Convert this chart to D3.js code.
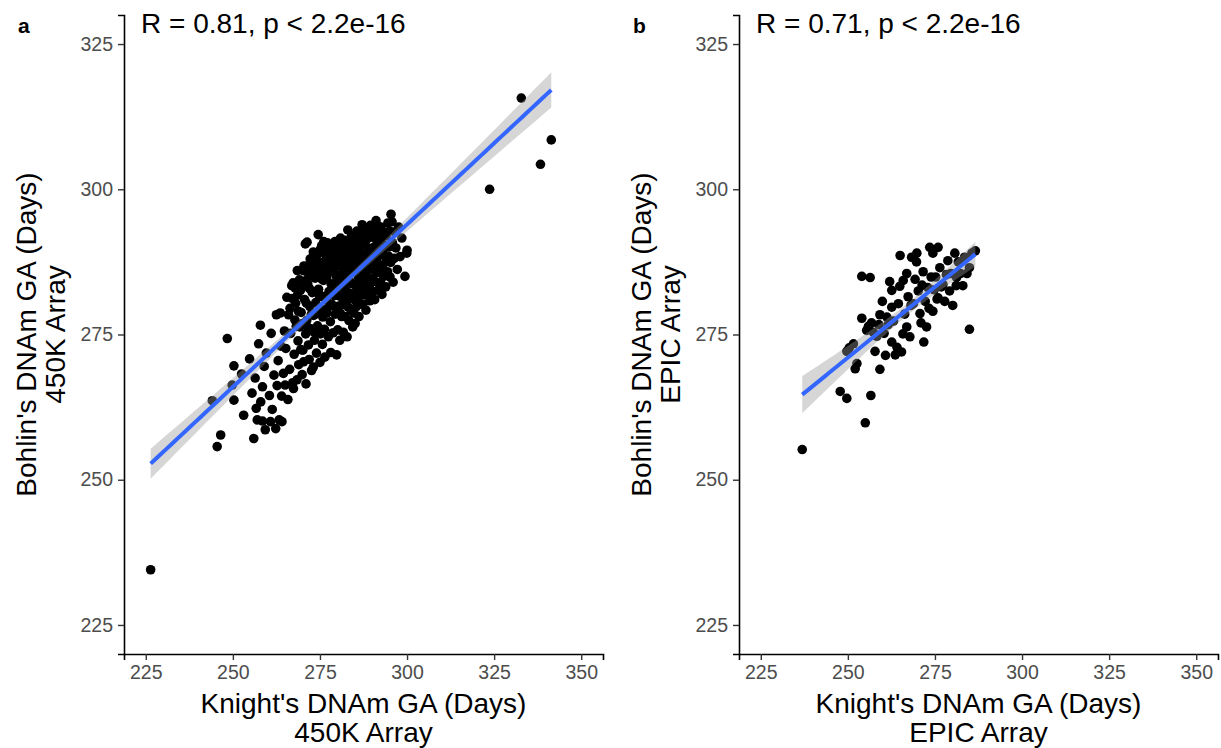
<!DOCTYPE html>
<html lang="en">
<head>
<meta charset="utf-8">
<title>Knight vs Bohlin DNAm GA</title>
<script src="https://cdn.jsdelivr.net/npm/d3@7"></script>
<style>
  body { margin: 0; background: #fff; }
  text { font-family: "Liberation Sans", Arial, sans-serif; }
</style>
</head>
<body>
<script>
// Knight's (x) vs Bohlin's (y) DNAm GA, days
var pairs450K = [
  [226.4,234.5],[323.7,300.0],[332.8,315.7],[338.3,304.3],[341.4,308.5],
  [244.1,263.6],[245.5,255.7],[246.5,257.7],[248.4,274.3],[249.8,266.3],[250.3,269.6],[250.3,263.7],[252.5,268.2],
  [253.1,261.1],[254.8,270.8],[255.5,264.9],[256.0,257.1],[256.4,267.5],[256.7,262.3],[257.0,260.3],[257.4,273.4],
  [257.9,276.6],[258.5,260.1],[258.5,266.0],[258.0,263.4],[259.3,258.6],[259.0,269.5],[259.6,271.8],[260.8,260.0],
  [260.5,264.5],[261.3,262.1],[261.0,275.2],[261.8,268.0],[262.3,258.8],[262.5,278.4],[262.7,266.2],[263.0,270.5],
  [263.3,260.3],[263.6,278.7],[263.8,273.0],[264.1,260.0],[264.0,264.4],[264.5,268.3],[264.8,275.6],[265.0,266.3],
  [265.2,272.6],[265.5,281.4],[265.8,263.8],[266.0,278.4],[266.3,269.0],[266.6,275.2],[266.9,283.4],[267.2,266.7],
  [267.4,265.7],[267.3,283.9],[267.6,271.6],[267.8,277.5],[268.0,280.4],[268.4,267.2],[268.5,286.0],[268.7,273.9],
  [268.9,269.8],[269.2,276.3],[269.4,282.6],[269.6,278.8],[269.9,268.1],[270.1,272.3],[270.3,270.3],[270.4,286.8],
  [270.6,281.0],[270.8,290.6],[270.9,275.1],[271.0,266.5],[271.2,277.4],[271.3,290.9],[271.5,283.7],[271.7,273.2],
  [271.9,270.7],[272.1,279.8],[272.3,286.1],[272.4,276.0],[272.6,268.8],[272.8,282.2],[273.0,288.4],[273.1,269.4],
  [273.2,278.3],[273.4,274.0],[273.6,284.7],[273.8,280.5],[274.0,271.8],[274.2,287.6],[274.3,276.5],[274.5,292.2],
  [274.6,282.8],[274.8,279.2],[275.0,270.2],[275.1,275.1],[275.2,286.6],[275.4,281.6],[275.5,290.3],[275.7,273.3],
  [275.8,278.0],[276.0,284.3],[276.1,291.0],[276.3,275.9],[276.4,271.1],[276.6,287.8],[276.8,280.9],[277.0,278.7],
  [277.1,290.8],[277.3,285.6],[277.4,274.6],[277.6,282.4],[277.8,289.7],[278.0,277.2],[278.1,271.9],[278.3,286.4],
  [278.4,280.2],[278.6,283.7],[278.8,275.3],[279.0,288.6],[279.1,281.7],[279.3,291.0],[279.4,278.5],[279.6,285.1],
  [279.8,271.5],[279.9,290.5],[280.1,275.8],[280.2,283.2],[280.4,279.9],[280.6,287.2],[280.7,274.0],[280.9,291.6],
  [281.0,284.7],[281.2,278.1],[281.4,281.3],[281.5,289.3],[281.7,275.4],[281.9,286.1],[282.0,282.9],[282.2,278.1],
  [282.3,291.2],[282.5,280.6],[282.7,287.6],[282.8,274.6],[283.0,293.0],[283.2,284.2],[283.3,277.4],[283.5,289.8],
  [283.6,281.9],[283.8,286.5],[284.0,279.1],[284.1,292.0],[284.3,283.7],[284.4,276.3],[284.6,288.3],[284.8,281.0],
  [285.0,291.0],[285.1,276.9],[285.3,285.6],[285.5,279.8],[285.6,292.8],[285.8,283.0],[286.0,289.4],[286.2,278.1],
  [286.3,286.5],[286.5,281.7],[286.7,292.0],[286.9,284.6],[287.1,293.9],[287.2,280.2],[287.4,287.8],[287.6,282.8],
  [287.8,290.4],[288.0,285.1],[288.2,279.2],[288.3,293.0],[288.5,288.5],[288.7,282.0],[288.9,286.1],[289.1,291.7],
  [289.3,280.8],[289.5,293.8],[289.7,284.6],[289.9,288.7],[290.1,282.4],[290.3,292.4],[290.5,286.4],[290.7,281.0],
  [290.9,290.2],[291.1,294.6],[291.3,284.0],[291.5,288.3],[291.7,282.6],[292.0,292.3],[292.2,286.1],[292.5,293.5],
  [292.8,281.9],[293.0,289.5],[293.3,285.0],[293.6,292.6],[293.9,283.2],[294.2,287.6],[294.5,294.2],[294.8,290.1],
  [295.1,284.9],[295.4,295.7],[295.7,294.4],[296.0,284.0],[296.3,288.1],[296.5,292.7],[296.8,289.9],[297.2,286.2],
  [297.6,293.5],[298.0,288.4],[298.5,291.6],[299.4,285.0],[299.9,289.0],[300.0,289.5],
  [268.2,276.4],[268.8,279.0],[269.5,272.4],[270.0,276.9],[270.5,283.4],[271.1,280.4],[271.6,276.2],[272.0,282.9],
  [272.5,278.4],[272.9,285.2],[273.3,275.4],[273.7,282.4],[274.1,278.6],[274.4,284.9],[274.9,281.6],[275.3,278.7],
  [275.6,284.5],[275.9,281.5],[276.2,286.7],[276.5,279.3],[276.9,284.7],[277.2,281.7],[277.5,287.7],[277.9,279.9],
  [278.2,283.7],[278.5,290.2],[278.9,282.3],[279.2,286.5],[279.5,279.7],[279.7,283.7],[280.0,288.2],[280.3,281.7],
  [280.5,285.2],[280.8,278.7],[281.1,286.7],[281.3,283.5],[281.6,290.7],[281.8,280.2],[282.1,285.2],[282.4,288.7],
  [282.6,282.5],[282.9,285.7],[283.1,279.7],[283.4,288.1],[283.7,284.1],[283.9,290.6],[284.2,282.0],[284.5,285.9],
  [284.7,278.7],[284.9,289.6],[285.2,283.5],[285.4,287.6],[285.7,281.3],[285.9,291.5],[286.1,284.8],[286.4,288.1],
  [286.6,282.3],[286.8,290.3],[287.0,286.0],[287.3,284.0],[287.5,292.5],[287.7,288.8],[287.9,281.8],[288.1,291.0],
  [288.4,284.3],[288.6,287.0],[288.8,292.8],[289.0,289.5],[289.2,283.4],[289.4,287.5],[289.6,291.8],[289.8,286.4],
  [290.0,289.9],[290.2,284.5],[290.4,288.5],[290.6,293.4],[290.8,287.3],[291.0,291.5],[291.2,285.6],[291.4,290.0],
  [291.6,286.8],[291.8,293.6],[292.1,289.0],[292.4,284.0],[292.7,291.0],[293.1,287.0],[293.4,290.2],[293.8,288.4],
  [294.0,292.0],[294.4,285.8],[294.7,288.5],[295.0,292.8],[295.3,287.4],[295.8,290.8],
  [266.4,279.5],[267.1,281.2],[267.9,283.0],[268.6,281.8],[269.1,284.4],[269.8,283.1],[270.2,286.0],[270.7,284.2],
  [271.4,286.8],[271.8,285.0],[272.2,288.0],[272.7,286.3],[273.1,289.2],[273.5,287.0],[273.9,285.4],[274.3,288.8],
  [274.7,286.4],[275.1,289.6],[275.5,287.3],[275.8,285.6],[276.3,289.0],[276.7,287.2],[277.1,288.4],[277.5,290.0],
  [277.9,286.6],[278.3,289.2],[278.7,287.6],[279.1,290.4],[279.5,288.0],[279.9,286.8],[280.4,289.6],[280.8,288.2],
  [281.2,290.2],[281.7,287.4],[282.1,289.8],[282.6,288.4],[283.1,290.6],[283.6,289.0],[284.1,288.0],[284.6,290.2],
  [285.1,289.2],[285.6,290.4]
];

var pairsEPIC = [
  [236.9,255.2],[247.8,265.2],[249.7,264.0],[249.7,272.1],[250.4,272.7],[251.6,273.4],[252.1,269.1],[252.6,270.0],
  [254.0,285.0],[254.0,277.8],[255.0,259.8],[255.4,275.7],[255.9,276.4],[256.4,284.8],[256.6,264.5],[256.8,277.0],
  [257.3,275.4],[257.8,272.1],[258.3,274.7],[258.9,276.7],[259.2,269.0],[259.2,278.4],[259.9,280.7],[260.4,275.2],
  [260.8,271.4],[261.2,278.0],[261.6,276.7],[262.0,284.1],[262.6,273.7],[262.6,282.6],[262.6,279.7],[263.1,277.3],
  [263.6,271.5],[264.1,272.8],[264.5,280.3],[264.9,283.3],[265.0,288.6],[265.4,272.0],[265.8,275.1],[265.9,284.3],
  [266.3,278.5],[266.9,285.5],[266.9,276.3],[267.3,281.5],[267.8,274.6],[268.1,280.0],[268.3,288.3],[268.8,280.3],
  [269.3,284.5],[269.7,287.5],[269.8,289.0],[270.2,282.5],[270.7,278.6],[271.0,277.0],[271.3,283.5],[271.6,285.8],
  [271.8,273.7],[272.2,280.7],[272.6,276.3],[272.9,283.1],[273.3,279.5],[273.5,290.0],[273.9,284.9],[274.4,279.0],
  [274.4,289.0],[274.8,282.7],[275.2,284.9],[275.6,281.1],[275.9,290.0],[275.9,281.3],[276.4,286.5],[276.8,283.2],
  [277.3,283.6],[277.8,280.7],[278.3,285.3],[278.7,287.7],[279.2,282.5],[279.6,285.5],[280.1,280.0],[280.7,289.0],
  [281.1,283.4],[281.2,284.8],[281.7,287.5],[282.3,285.5],[283.0,283.4],[283.5,288.3],[284.2,285.5],[284.9,286.5],
  [284.9,275.9],[285.6,289.0],[286.6,289.4]
];

var xTicks = [225, 250, 275, 300, 325, 350];
var yTicks = [225, 250, 275, 300, 325];

var panels = [
  { tag: "a", stat: "R = 0.81, p < 2.2e-16", array: "450K Array", data: pairs450K, left: 124 },
  { tag: "b", stat: "R = 0.71, p < 2.2e-16", array: "EPIC Array", data: pairsEPIC, left: 739 }
];

var W = 1221, H = 748;
var pw = 479, plotTop = 15, plotBottom = 654;

var svg = d3.select("body").append("svg")
  .attr("width", W)
  .attr("height", H);

panels.forEach(function(p) {
  var x = d3.scaleLinear().domain([218.75, 356.25]).range([p.left, p.left + pw]);
  var y = d3.scaleLinear().domain([220, 330]).range([plotBottom, plotTop]);

  var g = svg.append("g");

  // points
  g.selectAll("circle")
    .data(p.data)
    .enter()
    .append("circle")
    .attr("cx", function(d) { return x(d[0]); })
    .attr("cy", function(d) { return y(d[1]); })
    .attr("r", 4.8)
    .attr("fill", "black");

  // linear fit + 95% CI, like geom_smooth(method = "lm")
  var n = p.data.length;
  var mx = d3.mean(p.data, function(d) { return d[0]; });
  var my = d3.mean(p.data, function(d) { return d[1]; });
  var sxx = d3.sum(p.data, function(d) { return (d[0] - mx) * (d[0] - mx); });
  var sxy = d3.sum(p.data, function(d) { return (d[0] - mx) * (d[1] - my); });
  var b1 = sxy / sxx, b0 = my - b1 * mx;
  var sse = d3.sum(p.data, function(d) { var r = d[1] - (b0 + b1 * d[0]); return r * r; });
  var s = Math.sqrt(sse / (n - 2));
  var tq = 1.96 + 2.4 / (n - 2);
  var ext = d3.extent(p.data, function(d) { return d[0]; });
  var fit = d3.range(81).map(function(i) {
    var xv = ext[0] + (ext[1] - ext[0]) * i / 80;
    var yh = b0 + b1 * xv;
    var se = s * Math.sqrt(1 / n + (xv - mx) * (xv - mx) / sxx);
    return { x: xv, y: yh, lo: yh - tq * se, hi: yh + tq * se };
  });

  g.append("path")
    .datum(fit)
    .attr("fill", "#999999")
    .attr("fill-opacity", 0.4)
    .attr("d", d3.area()
      .x(function(d) { return x(d.x); })
      .y0(function(d) { return y(d.lo); })
      .y1(function(d) { return y(d.hi); }));

  g.append("path")
    .datum(fit)
    .attr("fill", "none")
    .attr("stroke", "#3366FF")
    .attr("stroke-width", 4)
    .attr("d", d3.line()
      .x(function(d) { return x(d.x); })
      .y(function(d) { return y(d.y); }));

  // axes
  var xa = g.append("g")
    .attr("transform", "translate(0," + plotBottom + ")")
    .call(d3.axisBottom(x).tickValues(xTicks).tickSizeOuter(0).tickSize(6));
  xa.selectAll("text").attr("y", 25).attr("dy", 0);

  var ya = g.append("g")
    .attr("transform", "translate(" + p.left + ",0)")
    .call(d3.axisLeft(y).tickValues(yTicks).tickSizeOuter(0).tickSize(6));
  ya.selectAll("text").attr("x", -11);

  g.selectAll(".domain").attr("stroke", "black").attr("stroke-width", 1.6);
  g.selectAll(".tick line").attr("stroke", "#333").attr("stroke-width", 1.4);
  g.selectAll(".tick text")
    .attr("fill", "#4d4d4d")
    .style("font-size", "19.5px")
    .style("font-family", "'Liberation Sans', Arial, sans-serif");

  // stat label
  g.append("text")
    .attr("x", p.left + 17)
    .attr("y", 33)
    .style("font-size", "28px")
    .text(p.stat);

  // panel tag
  g.append("text")
    .attr("x", p.left - 106)
    .attr("y", 33)
    .style("font-size", "21px")
    .style("font-weight", "bold")
    .text(p.tag);

  // x title
  var cx = p.left + pw / 2;
  g.append("text").attr("x", cx).attr("y", 713)
    .attr("text-anchor", "middle").style("font-size", "28px")
    .text("Knight's DNAm GA (Days)");
  g.append("text").attr("x", cx).attr("y", 742)
    .attr("text-anchor", "middle").style("font-size", "28px")
    .text(p.array);

  // y title
  var cy = (plotTop + plotBottom) / 2;
  g.append("text")
    .attr("transform", "translate(" + (p.left - 88) + "," + cy + ") rotate(-90)")
    .attr("text-anchor", "middle").style("font-size", "28px")
    .text("Bohlin's DNAm GA (Days)");
  g.append("text")
    .attr("transform", "translate(" + (p.left - 59) + "," + cy + ") rotate(-90)")
    .attr("text-anchor", "middle").style("font-size", "28px")
    .text(p.array);
});
</script>
</body>
</html>
